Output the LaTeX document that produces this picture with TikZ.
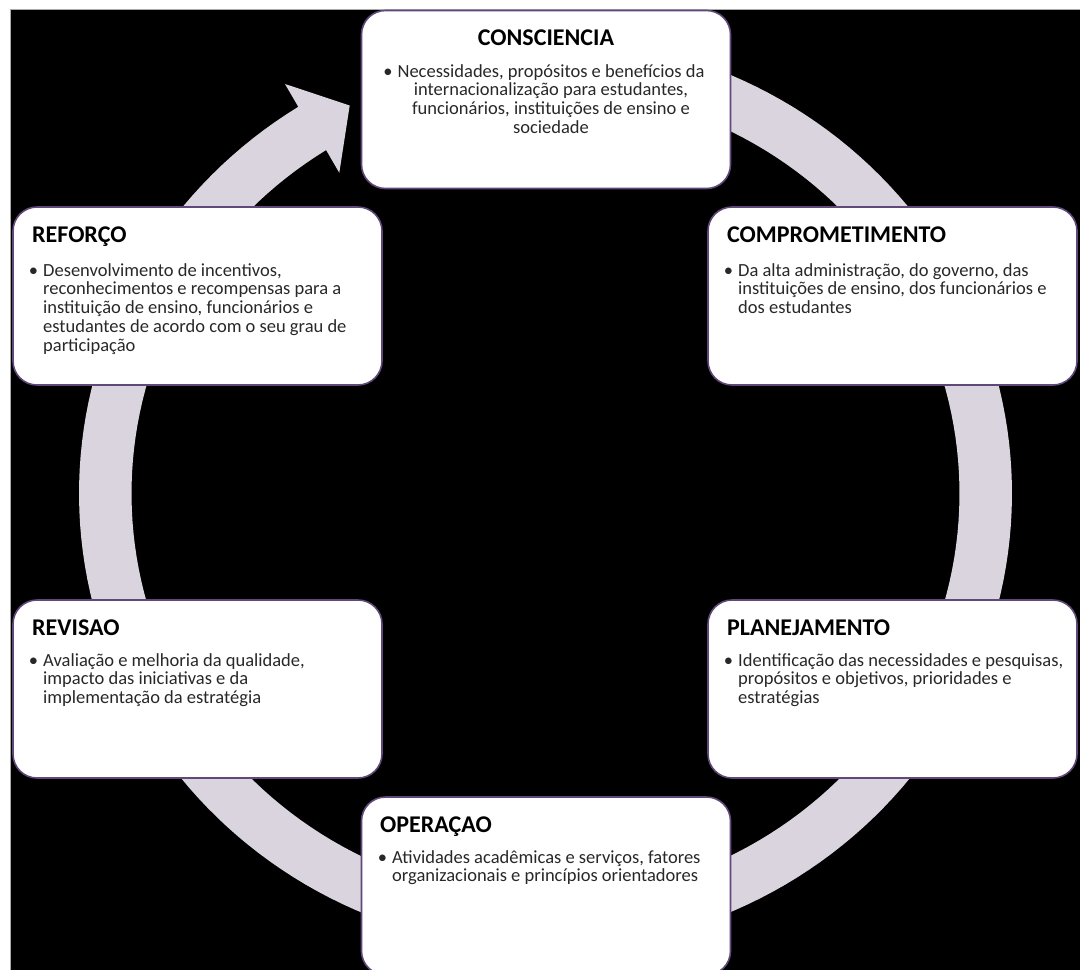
\documentclass[tikz,border=0pt]{standalone}
\usepackage{fontspec}
\setmainfont{Carlito}
\definecolor{ringc}{RGB}{217,212,221}
\definecolor{boxline}{RGB}{96,73,122}
\definecolor{bodyc}{RGB}{40,40,40}
\definecolor{marginline}{RGB}{170,170,170}
\newcommand{\bulletmark}{\leavevmode\llap{\textbullet\hspace{5pt}}}
\begin{document}
\begin{tikzpicture}[x=1pt,y=-1pt,
  card/.style={draw=boxline, line width=1.6pt, fill=white, rounded corners=24pt,
    minimum width=369pt, minimum height=178pt, inner sep=0pt},
  ttl/.style={inner sep=0pt, text=black, font=\fontsize{24}{28}\selectfont\bfseries},
  txt/.style={inner sep=0pt, text=bodyc, font=\fontsize{18.5}{18.75}\selectfont}]
\useasboundingbox (0,0) rectangle (1080,970);
\fill[white] (0,0) rectangle (1080,970);
\fill[black] (10,9) rectangle (1080,970);
\draw[marginline, line width=1pt] (10,970) -- (10,9) -- (1080,9);

% cycle arrow
\fill[ringc]
  plot[domain=70:-238, samples=180, variable=\t] ({545.5+466.5*cos(\t)},{493.5-456*sin(\t)})
  -- (285,84) -- (349.7,105.5) -- (339.3,172.8)
  -- plot[domain=-238:70, samples=180, variable=\t] ({545.5+414*cos(\t)},{493.5-405*sin(\t)})
  -- cycle;

% boxes
\node[card] (cons) at (546,99.5) {};
\node[card] (comp) at (892.5,296) {};
\node[card] (plan) at (892.5,689) {};
\node[card] (oper) at (546,886) {};
\node[card] (revi) at (197.5,689) {};
\node[card] (refo) at (197.5,296) {};

% titles
\node[ttl, anchor=base] (consT) at (546,45) {CONSCIENCIA};
\node[ttl, anchor=base west] (compT) at (727,242) {COMPROMETIMENTO};
\node[ttl, anchor=base west] (planT) at (727,635) {PLANEJAMENTO};
\node[ttl, anchor=base west] (operT) at (380,832) {OPERAÇAO};
\node[ttl, anchor=base west] (reviT) at (32,635) {REVISAO};
\node[ttl, anchor=base west] (refoT) at (32,242) {REFORÇO};

% bodies
\node[txt, anchor=base] (consB) at (551,77) {\parbox[t]{360pt}{\centering
  \bulletmark Necessidades, propósitos e benefícios da\\
  internacionalização para estudantes,\\
  funcionários, instituições de ensino e\\
  sociedade}};
\node[txt, anchor=base west] (compB) at (738,276) {\parbox[t]{330pt}{\raggedright
  \bulletmark Da alta administração, do governo, das\\
  instituições de ensino, dos funcionários e\\
  dos estudantes}};
\node[txt, anchor=base west] (planB) at (738,666) {\parbox[t]{330pt}{\raggedright
  \bulletmark Identificação das necessidades e pesquisas,\\
  propósitos e objetivos, prioridades e\\
  estratégias}};
\node[txt, anchor=base west] (operB) at (392,863) {\parbox[t]{330pt}{\raggedright
  \bulletmark Atividades acadêmicas e serviços, fatores\\
  organizacionais e princípios orientadores}};
\node[txt, anchor=base west] (reviB) at (43,666) {\parbox[t]{330pt}{\raggedright
  \bulletmark Avaliação e melhoria da qualidade,\\
  impacto das iniciativas e da\\
  implementação da estratégia}};
\node[txt, anchor=base west] (refoB) at (43,276) {\parbox[t]{330pt}{\raggedright
  \bulletmark Desenvolvimento de incentivos,\\
  reconhecimentos e recompensas para a\\
  instituição de ensino, funcionários e\\
  estudantes de acordo com o seu grau de\\
  participação}};
\end{tikzpicture}
\end{document}
